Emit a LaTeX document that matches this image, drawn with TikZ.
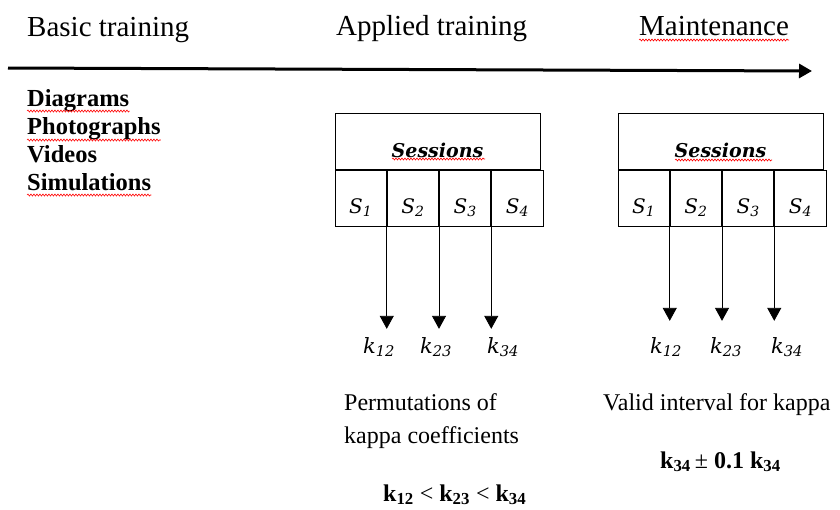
\documentclass[tikz,border=0pt]{standalone}
\usepackage{fontspec}
\setmainfont{Liberation Serif}
\newfontfamily\cambria{DejaVu Serif}
\usetikzlibrary{arrows.meta,positioning,decorations.pathmorphing}

\newcommand{\kap}[1]{{\cambria\itshape k\textsubscript{#1}}}
\newcommand{\bkap}[1]{\textbf{k\textsubscript{#1}}}

\tikzset{
  phase/.style={anchor=base west,inner sep=0pt,font=\fontsize{29}{30}\selectfont},
  media/.style={anchor=base west,inner sep=0pt,font=\fontsize{24.5}{26}\selectfont\bfseries},
  note/.style={anchor=base west,inner sep=0pt,font=\fontsize{24}{33}\selectfont,align=left},
  head/.style={draw,line width=1pt,minimum width=205pt,minimum height=56pt,inner sep=0pt,
    text height=32pt,text depth=0pt,font=\fontsize{19}{20}\selectfont\cambria\bfseries\itshape},
  cell/.style={draw,line width=1pt,minimum width=51.25pt,minimum height=56pt,inner sep=0pt,
    text height=30pt,text depth=0pt,font=\fontsize{20}{20}\selectfont\cambria\itshape},
  kval/.style={anchor=base,inner sep=0pt,font=\fontsize{21}{22}\selectfont},
  tip/.style={-{Triangle[length=13pt,width=14pt]},line width=0.8pt},
  spell/.style={red,line width=0.6pt,decorate,decoration={snake,amplitude=1pt,segment length=3pt}}
}

\begin{document}
\begin{tikzpicture}[x=1pt,y=-1pt]
  \useasboundingbox (0,0) rectangle (840,509);

  % timeline
  \node[phase] (basic) at (27,36) {Basic training};
  \node[phase] (applied) at (336,35) {Applied training};
  \node[phase] (maint) at (639,35) {Maintenance};
  \coordinate (tl0) at (8,68);
  \coordinate (tl1) at (812,71);
  \draw[-{Triangle[length=13pt,width=14pt]},line width=3pt] (tl0) -- (tl1);

  \node[media] (diag) at (27,106) {Diagrams};
  \node[media] (photo) at (27,134) {Photographs};
  \node[media] (video) at (27,162) {Videos};
  \node[media] (simul) at (27,190) {Simulations};

  % applied training sessions
  \node[head] (hdA) at (437.5,141) {Sessions};
  \node[cell,anchor=north west] (a1) at (hdA.south west) {S\textsubscript{1}};
  \node[cell,right=0pt of a1] (a2) {S\textsubscript{2}};
  \node[cell,right=0pt of a2] (a3) {S\textsubscript{3}};
  \node[cell,right=0pt of a3] (a4) {S\textsubscript{4}};

  \node[kval] (ka12) at (379,353) {\kap{12}};
  \node[kval] (ka23) at (436,353) {\kap{23}};
  \node[kval] (ka34) at (503,353) {\kap{34}};
  \draw[tip,shorten >=8pt] ([yshift=-13pt]a1.east) -- (a1.east |- ka12.north);
  \draw[tip,shorten >=8pt] ([yshift=-13pt]a2.east) -- (a2.east |- ka23.north);
  \draw[tip,shorten >=8pt] (a3.south east) -- (a3.east |- ka34.north);

  \node[note] (perm) at (344,443) {Permutations of\\kappa coefficients};
  \node[note] (order) at (383,501) {\bkap{12} < \bkap{23} < \bkap{34}};

  % maintenance sessions
  \node[head] (hdB) at (720.5,141) {Sessions};
  \node[cell,anchor=north west] (b1) at (hdB.south west) {S\textsubscript{1}};
  \node[cell,right=0pt of b1] (b2) {S\textsubscript{2}};
  \node[cell,right=0pt of b2] (b3) {S\textsubscript{3}};
  \node[cell,right=0pt of b3] (b4) {S\textsubscript{4}};

  \node[kval] (kb12) at (666,353) {\kap{12}};
  \node[kval] (kb23) at (726,353) {\kap{23}};
  \node[kval] (kb34) at (787,353) {\kap{34}};
  \draw[tip,shorten >=16pt] (b1.east) -- (b1.east |- kb12.north);
  \draw[tip,shorten >=16pt] (b2.south east) -- (b2.east |- kb23.north);
  \draw[tip,shorten >=16pt] (b3.south east) -- (b3.east |- kb34.north);

  \node[note] (valid) at (603,410) {Valid interval for kappa};
  \node[note] (range) at (660,468) {\bkap{34}\,± \textbf{0.1} \bkap{34}};

  % spell-check marks
  \draw[spell] ([yshift=-5pt]maint.base west) -- ([yshift=-5pt]maint.base east);
  \draw[spell] ([yshift=-5pt]diag.base west) -- ([yshift=-5pt]diag.base east);
  \draw[spell] ([yshift=-6pt]photo.base west) -- ([yshift=-6pt]photo.base east);
  \draw[spell] ([yshift=-5pt]simul.base west) -- ([yshift=-5pt]simul.base east);
  \draw[spell] (392,159) -- (485,159);
  \draw[spell] (675,160) -- (772,160);
\end{tikzpicture}
\end{document}
